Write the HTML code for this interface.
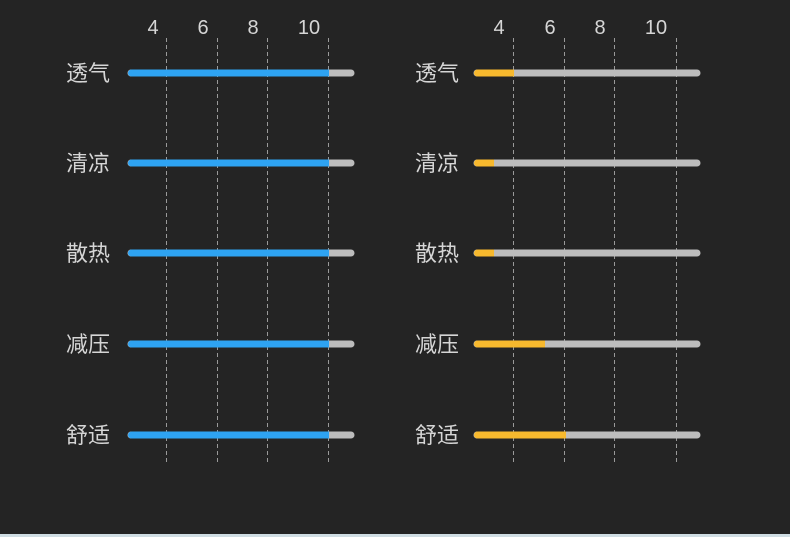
<!DOCTYPE html>
<html><head><meta charset="utf-8"><style>
html,body{margin:0;padding:0;background:#242424;}
svg{display:block}
text{font-family:"Liberation Sans","Noto Sans CJK SC",sans-serif;fill:#d6d6d6;}
</style></head><body>
<svg width="790" height="537" viewBox="0 0 790 537" xmlns="http://www.w3.org/2000/svg">
<rect width="790" height="537" fill="#242424"/>
<rect y="534" width="790" height="3" fill="#cfdde3"/>
<g stroke="#9a9a9a" stroke-width="1" stroke-dasharray="4,3">
<line x1="166.5" y1="38" x2="166.5" y2="462"/><line x1="217.5" y1="38" x2="217.5" y2="462"/>
<line x1="267.5" y1="38" x2="267.5" y2="462"/><line x1="328.5" y1="38" x2="328.5" y2="462"/>
<line x1="513.5" y1="38" x2="513.5" y2="462"/><line x1="564.5" y1="38" x2="564.5" y2="462"/>
<line x1="614.5" y1="38" x2="614.5" y2="462"/><line x1="676.5" y1="38" x2="676.5" y2="462"/>
</g>
<g font-size="20" text-anchor="middle">
<text x="153" y="34">4</text><text x="203" y="34">6</text><text x="253" y="34">8</text><text x="309" y="34">10</text>
<text x="499" y="34">4</text><text x="550" y="34">6</text><text x="600" y="34">8</text><text x="656" y="34">10</text>
</g>
<g font-size="22">
<text x="66" y="81">透气</text><text x="66" y="171">清凉</text><text x="66" y="261">散热</text><text x="66" y="352">减压</text><text x="66" y="443">舒适</text>
<text x="415" y="81">透气</text><text x="415" y="171">清凉</text><text x="415" y="261">散热</text><text x="415" y="352">减压</text><text x="415" y="443">舒适</text>
</g>
<g stroke-linecap="round" stroke-width="7">
<g stroke="#bdbdbd">
<line x1="131" y1="73" x2="351" y2="73"/><line x1="131" y1="163" x2="351" y2="163"/><line x1="131" y1="253" x2="351" y2="253"/><line x1="131" y1="344" x2="351" y2="344"/><line x1="131" y1="435" x2="351" y2="435"/>
<line x1="477" y1="73" x2="697" y2="73"/><line x1="477" y1="163" x2="697" y2="163"/><line x1="477" y1="253" x2="697" y2="253"/><line x1="477" y1="344" x2="697" y2="344"/><line x1="477" y1="435" x2="697" y2="435"/>
</g>
</g>
<g fill="#2ea3f2">
<path d="M131.5 69.5 H329 V76.5 H131.5 A3.5 3.5 0 0 1 131.5 69.5Z"/>
<path d="M131.5 159.5 H329 V166.5 H131.5 A3.5 3.5 0 0 1 131.5 159.5Z"/>
<path d="M131.5 249.5 H329 V256.5 H131.5 A3.5 3.5 0 0 1 131.5 249.5Z"/>
<path d="M131.5 340.5 H329 V347.5 H131.5 A3.5 3.5 0 0 1 131.5 340.5Z"/>
<path d="M131.5 431.5 H329 V438.5 H131.5 A3.5 3.5 0 0 1 131.5 431.5Z"/>
</g>
<g fill="#f7b92e">
<path d="M477.5 69.5 H514 V76.5 H477.5 A3.5 3.5 0 0 1 477.5 69.5Z"/>
<path d="M477.5 159.5 H494 V166.5 H477.5 A3.5 3.5 0 0 1 477.5 159.5Z"/>
<path d="M477.5 249.5 H494 V256.5 H477.5 A3.5 3.5 0 0 1 477.5 249.5Z"/>
<path d="M477.5 340.5 H545 V347.5 H477.5 A3.5 3.5 0 0 1 477.5 340.5Z"/>
<path d="M477.5 431.5 H566 V438.5 H477.5 A3.5 3.5 0 0 1 477.5 431.5Z"/>
</g>
</svg>
</body></html>
